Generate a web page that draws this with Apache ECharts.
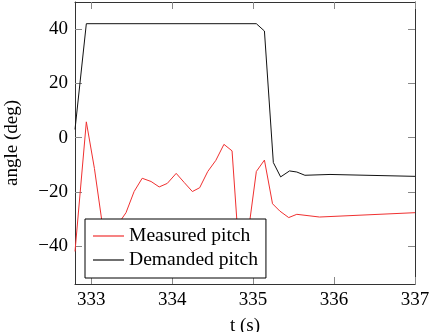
<!DOCTYPE html>
<html>
<head>
<meta charset="utf-8">
<script src="https://cdn.jsdelivr.net/npm/echarts@6/dist/echarts.min.js"></script>
<style>html,body{margin:0;padding:0;background:#fff}#c{width:433px;height:332px}</style>
</head>
<body>
<div id="c"></div>
<script>
const xTicks = [333, 334, 335, 336, 337];
const yTicks = [-40, -20, 0, 20, 40];

const demandedT = [332.8, 332.94, 335.04, 335.14, 335.25, 335.34, 335.45, 335.54, 335.64, 335.95, 337.0];
const demandedV = [3, 42, 42, 39.3, -9.2, -14.5, -12.3, -12.7, -13.9, -13.6, -14.3];

const measuredT = [332.8, 332.94, 333.04, 333.14, 333.24, 333.34, 333.43, 333.53, 333.63, 333.74, 333.84, 333.94, 334.05, 334.15, 334.25, 334.34, 334.44, 334.54, 334.64, 334.74, 334.84, 334.94, 335.04, 335.14, 335.24, 335.33, 335.44, 335.54, 335.82, 337.0];
const measuredV = [-42, 5.8, -11.4, -32.5, -33, -31.6, -27.7, -19.9, -15.0, -16.2, -18.2, -16.9, -13.2, -16.6, -19.9, -18.5, -12.5, -8.4, -2.5, -4.9, -48, -35, -12.5, -8.3, -24.4, -27.1, -29.5, -28.3, -29.3, -27.7];

const seriesNames = ['Measured pitch', 'Demanded pitch'];

const FONT = 'Liberation Serif';
const fmt = v => String(v).replace('-', '\u2212');
const frame = {show: true, onZero: false, lineStyle: {color: '#333', width: 1}};

const chart = echarts.init(document.getElementById('c'), null, {renderer: 'canvas'});
chart.setOption({
  animation: false,
  backgroundColor: '#fff',
  textStyle: {fontFamily: FONT, color: '#000'},
  grid: {left: 75, right: 18, top: 2, bottom: 48, outerBoundsMode: 'none', containLabel: false},
  xAxis: [{
    type: 'value', min: 332.8, max: 337, position: 'bottom',
    name: 't (s)', nameLocation: 'middle', nameGap: 33,
    nameTextStyle: {fontFamily: FONT, fontSize: 19, color: '#000'},
    axisLine: frame,
    axisTick: {show: true, inside: true, length: 7, customValues: xTicks, lineStyle: {color: '#888'}},
    axisLabel: {customValues: xTicks, fontFamily: FONT, fontSize: 19, color: '#000', margin: 7, formatter: fmt},
    splitLine: {show: false}
  }, {
    type: 'value', min: 332.8, max: 337, position: 'top',
    axisLine: frame,
    axisTick: {show: true, inside: true, length: 7, customValues: xTicks, lineStyle: {color: '#888'}},
    axisLabel: {show: false},
    splitLine: {show: false}
  }],
  yAxis: [{
    type: 'value', min: -54, max: 50, position: 'left',
    name: 'angle (deg)', nameLocation: 'middle', nameGap: 53, nameRotate: 90,
    nameTextStyle: {fontFamily: FONT, fontSize: 19, color: '#000'},
    axisLine: frame,
    axisTick: {show: true, inside: true, length: 7, customValues: yTicks, lineStyle: {color: '#888'}},
    axisLabel: {customValues: yTicks, fontFamily: FONT, fontSize: 19, color: '#000', margin: 7, formatter: fmt},
    splitLine: {show: false}
  }, {
    type: 'value', min: -54, max: 50, position: 'right',
    axisLine: frame,
    axisTick: {show: true, inside: true, length: 7, customValues: yTicks, lineStyle: {color: '#888'}},
    axisLabel: {show: false},
    splitLine: {show: false}
  }],
  legend: {
    left: 85, top: 219, orient: 'vertical',
    data: seriesNames.map(n => ({name: n, icon: 'rect'})),
    itemWidth: 31, itemHeight: 1.2, itemGap: 4,
    padding: [7, 8, 8, 8],
    backgroundColor: '#fff', borderColor: '#000', borderWidth: 1,
    textStyle: {fontFamily: FONT, fontSize: 19.6, color: '#000', lineHeight: 19}
  },
  series: [{
    name: seriesNames[0], type: 'line', xAxisIndex: 0, yAxisIndex: 0,
    data: measuredT.map((t, i) => [t, measuredV[i]]),
    symbol: 'none', lineStyle: {color: '#f03030', width: 1}, itemStyle: {color: '#f03030'}, z: 2
  }, {
    name: seriesNames[1], type: 'line', xAxisIndex: 0, yAxisIndex: 0,
    data: demandedT.map((t, i) => [t, demandedV[i]]),
    symbol: 'none', lineStyle: {color: '#111', width: 1}, itemStyle: {color: '#111'}, z: 2
  }]
});
</script>
</body>
</html>
